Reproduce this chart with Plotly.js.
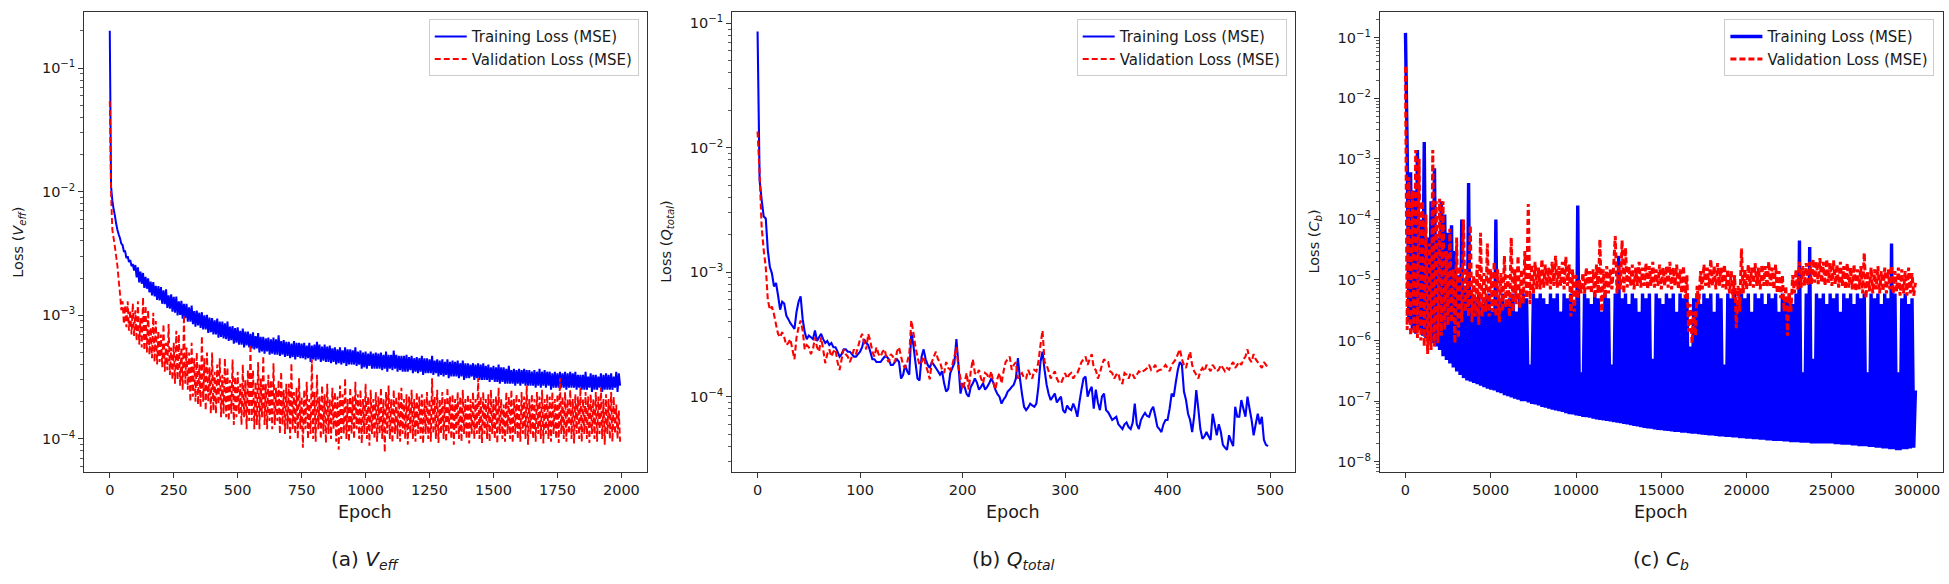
<!DOCTYPE html>
<html>
<head>
<meta charset="utf-8">
<script src="https://cdn.plot.ly/plotly-3.0.1.min.js"></script>
<style>
  html, body { margin: 0; padding: 0; background: #ffffff; }
  #chart { width: 1949px; height: 584px; }
</style>
</head>
<body>
<div id="chart"></div>
<script>
// ---------------- DATA ----------------
// (a) V_eff : one value every 5 epochs
const epochStepA = 5;
const trainLossA = [
  0.2, 0.011, 0.0085, 0.0072, 0.0064, 0.0055, 0.0049, 0.0045, 0.0042, 0.0038,
  0.0037, 0.0033, 0.0033, 0.0029, 0.003, 0.0027, 0.0028, 0.0025, 0.0026, 0.0023,
  0.00255, 0.00203, 0.00244, 0.00185, 0.00226, 0.0018, 0.0022, 0.00167, 0.00205, 0.00164,
  0.00199, 0.00153, 0.00187, 0.00145, 0.00186, 0.00142, 0.00173, 0.00133, 0.00172, 0.00132,
  0.00169, 0.00124, 0.00159, 0.00123, 0.00162, 0.00115, 0.00145, 0.00113, 0.00148, 0.00107,
  0.00141, 0.00105, 0.00142, 0.001, 0.0013, 0.00101, 0.00131, 0.00094, 0.00124, 0.00095,
  0.00124, 0.00089, 0.00116, 0.00089, 0.0012, 0.00085, 0.00108, 0.00081, 0.00109, 0.00083,
  0.00105, 0.00079, 0.00106, 0.00077, 0.001, 0.00077, 0.00101, 0.00072, 0.00096, 0.00073,
  0.00095, 0.0007, 0.00091, 0.0007, 0.00094, 0.00066, 0.00089, 0.00067, 0.00089, 0.00065,
  0.00086, 0.00064, 0.00089, 0.00062, 0.00081, 0.00063, 0.00082, 0.00059, 0.00079, 0.0006,
  0.0008, 0.00058, 0.00075, 0.00058, 0.00078, 0.00055, 0.00074, 0.00057, 0.00074, 0.00055,
  0.00071, 0.00054, 0.00073, 0.00053, 0.00068, 0.00054, 0.00072, 0.0005, 0.00067, 0.00051,
  0.00067, 0.00049, 0.00065, 0.00051, 0.00066, 0.00048, 0.00064, 0.00049, 0.00066, 0.00048,
  0.00064, 0.00048, 0.00069, 0.00047, 0.00062, 0.00048, 0.00063, 0.00046, 0.00061, 0.00047,
  0.00061, 0.00045, 0.00059, 0.00046, 0.00062, 0.00044, 0.0006, 0.00046, 0.0006, 0.00045,
  0.00059, 0.00045, 0.0006, 0.00044, 0.00057, 0.00045, 0.0006, 0.00042, 0.00057, 0.00044,
  0.00058, 0.00043, 0.00061, 0.00044, 0.00058, 0.00042, 0.00056, 0.00043, 0.00058, 0.00042,
  0.00056, 0.00042, 0.00057, 0.00041, 0.00054, 0.00042, 0.00055, 0.0004, 0.00053, 0.00041,
  0.00055, 0.0004, 0.00052, 0.00041, 0.00055, 0.00039, 0.00053, 0.0004, 0.00053, 0.0004,
  0.00052, 0.0004, 0.00055, 0.00039, 0.00051, 0.0004, 0.00052, 0.00037, 0.0005, 0.00038,
  0.00051, 0.00037, 0.00049, 0.00039, 0.00051, 0.00037, 0.00049, 0.00037, 0.0005, 0.00037,
  0.00049, 0.00037, 0.0005, 0.00036, 0.00048, 0.00037, 0.00051, 0.00035, 0.00048, 0.00037,
  0.00048, 0.00036, 0.00052, 0.00037, 0.00048, 0.00035, 0.00047, 0.00036, 0.00047, 0.00035,
  0.00047, 0.00035, 0.00048, 0.00035, 0.00046, 0.00036, 0.00047, 0.00034, 0.00045, 0.00035,
  0.00046, 0.00034, 0.00045, 0.00035, 0.00047, 0.00033, 0.00045, 0.00034, 0.00045, 0.00034,
  0.00044, 0.00034, 0.00047, 0.00033, 0.00043, 0.00034, 0.00044, 0.00032, 0.00043, 0.00033,
  0.00044, 0.00032, 0.00042, 0.00033, 0.00044, 0.00031, 0.00042, 0.00032, 0.00043, 0.00032,
  0.00042, 0.00032, 0.00043, 0.00031, 0.00041, 0.00032, 0.00043, 0.0003, 0.00041, 0.00031,
  0.00041, 0.00031, 0.0004, 0.00032, 0.00041, 0.0003, 0.0004, 0.00031, 0.00041, 0.0003,
  0.0004, 0.0003, 0.00041, 0.0003, 0.00039, 0.0003, 0.0004, 0.00029, 0.00038, 0.0003,
  0.00039, 0.00029, 0.00038, 0.00029, 0.0004, 0.00028, 0.00038, 0.00029, 0.00038, 0.00028,
  0.00037, 0.00028, 0.00039, 0.00028, 0.00036, 0.00028, 0.00037, 0.00027, 0.00036, 0.00028,
  0.00037, 0.00027, 0.00036, 0.00028, 0.00037, 0.00027, 0.00036, 0.00027, 0.00036, 0.00027,
  0.00035, 0.00027, 0.00036, 0.00026, 0.00035, 0.00027, 0.00037, 0.00026, 0.00035, 0.00027,
  0.00036, 0.00026, 0.00035, 0.00027, 0.00035, 0.00025, 0.00034, 0.00026, 0.00035, 0.00026,
  0.00034, 0.00026, 0.00035, 0.00026, 0.00034, 0.00026, 0.00035, 0.00025, 0.00034, 0.00026,
  0.00035, 0.00026, 0.00034, 0.00026, 0.00035, 0.00025, 0.00033, 0.00026, 0.00033, 0.00025,
  0.00033, 0.00025, 0.00035, 0.00025, 0.00032, 0.00026, 0.00034, 0.00024, 0.00033, 0.00025,
  0.00033, 0.00025, 0.00032, 0.00026, 0.00034, 0.00024, 0.00033, 0.00025, 0.00034, 0.00025,
  0.00033, 0.00025, 0.00034, 0.00025, 0.00032, 0.00026, 0.00035, 0.00024, 0.00034, 0.00027
];
const valLossA = [
  0.054, 0.0095, 0.0049, 0.0042, 0.0036, 0.003, 0.0025, 0.0019, 0.0015, 0.0011,
  0.0013, 0.00085, 0.0012, 0.0008, 0.0013, 0.00075, 0.0011, 0.0007, 0.00125, 0.00068,
  0.0011, 0.00062, 0.0013, 0.00058, 0.00095, 0.00055, 0.0014, 0.00052, 0.0012, 0.0005,
  0.0011, 0.00048, 0.0008, 0.00045, 0.00105, 0.00042, 0.0009, 0.0004, 0.00075, 0.00042,
  0.0007, 0.00038, 0.00085, 0.00035, 0.0006, 0.00036, 0.00085, 0.00033, 0.00055, 0.0003,
  0.0006, 0.00028, 0.00075, 0.0003, 0.0007, 0.00027, 0.00055, 0.00025, 0.001, 0.00028,
  0.00055, 0.00025, 0.0005, 0.0002, 0.0006, 0.00022, 0.00045, 0.0002, 0.0005, 0.00019,
  0.0004, 0.00018, 0.00068, 0.0002, 0.00045, 0.00017, 0.0005, 0.0002, 0.00038, 0.00016,
  0.0005, 0.00017, 0.00035, 0.00016, 0.0004, 0.00019, 0.00045, 0.00015, 0.00033, 0.00016,
  0.00045, 0.00015, 0.00038, 0.00014, 0.0003, 0.00016, 0.00044, 0.00013, 0.00032, 0.00015,
  0.00035, 0.00016, 0.00028, 0.00013, 0.0004, 0.00015, 0.0003, 0.00012, 0.00036, 0.00014,
  0.00058, 0.00014, 0.00036, 0.00012, 0.00029, 0.00013, 0.00042, 0.00012, 0.00031, 0.00015,
  0.00047, 0.00013, 0.00028, 0.00012, 0.00033, 0.00014, 0.0003, 0.00012, 0.00041, 0.00013,
  0.00026, 0.00014, 0.0003, 0.00011, 0.00035, 0.00013, 0.00025, 0.00011, 0.00028, 0.00012,
  0.00028, 0.0001, 0.00041, 0.00012, 0.00024, 0.00011, 0.00026, 0.0001, 0.00031, 0.00012,
  0.00022, 0.000085, 0.00025, 0.00012, 0.00029, 0.0001, 0.00021, 0.00011, 0.00044, 0.0001,
  0.00024, 0.000095, 0.00033, 0.00012, 0.00022, 0.0001, 0.00027, 0.00011, 0.00023, 0.000093,
  0.00028, 0.00011, 0.00021, 0.0001, 0.00026, 0.00012, 0.00024, 0.000095, 0.00022, 0.000082,
  0.00027, 0.0001, 0.00023, 0.00011, 0.00031, 0.0001, 0.00021, 0.000095, 0.00026, 0.00011,
  0.00022, 0.0001, 0.00029, 0.00012, 0.00023, 0.0001, 0.00025, 0.000092, 0.00021, 0.00011,
  0.00028, 0.0001, 0.00022, 0.000088, 0.00025, 0.00011, 0.00021, 0.0001, 0.00024, 0.000095,
  0.00022, 0.00011, 0.00026, 0.0001, 0.00021, 0.000078, 0.00024, 0.00011, 0.00027, 0.0001,
  0.00021, 0.000093, 0.00025, 0.00011, 0.00022, 0.0001, 0.00024, 0.000095, 0.00026, 0.00011,
  0.00021, 0.0001, 0.00023, 0.00009, 0.00022, 0.00011, 0.00025, 0.0001, 0.00021, 0.000095,
  0.00024, 0.00011, 0.00022, 0.0001, 0.00023, 0.000092, 0.00021, 0.00011, 0.00024, 0.0001,
  0.00021, 0.000095, 0.00031, 0.00011, 0.00022, 0.0001, 0.00025, 0.000093, 0.00021, 0.00011,
  0.00024, 0.0001, 0.00021, 0.000095, 0.00026, 0.00011, 0.00022, 0.0001, 0.00023, 0.00009,
  0.00021, 0.00011, 0.00024, 0.0001, 0.00022, 0.000095, 0.00025, 0.00011, 0.00021, 0.0001,
  0.00023, 0.000092, 0.00021, 0.00011, 0.00024, 0.0001, 0.00021, 0.00011, 0.00031, 0.0001,
  0.00022, 0.000093, 0.00024, 0.00011, 0.00021, 0.0001, 0.00023, 0.000095, 0.00025, 0.00011,
  0.00021, 0.0001, 0.00022, 0.000092, 0.00026, 0.00011, 0.00021, 0.0001, 0.00019, 0.000095,
  0.00024, 0.00011, 0.00022, 0.0001, 0.00025, 0.000093, 0.00021, 0.00011, 0.00023, 0.0001,
  0.00021, 0.000095, 0.00024, 0.00011, 0.00022, 0.0001, 0.00027, 0.00009, 0.00021, 0.00011,
  0.00023, 0.0001, 0.00021, 0.000095, 0.00024, 0.00011, 0.00022, 0.0001, 0.00025, 0.000092,
  0.00021, 0.00011, 0.00023, 0.0001, 0.00022, 0.000095, 0.00024, 0.00011, 0.00021, 0.0001,
  0.00023, 0.000093, 0.00031, 0.00011, 0.00022, 0.0001, 0.00024, 0.000095, 0.00021, 0.00011,
  0.00025, 0.0001, 0.00021, 0.000092, 0.00023, 0.00011, 0.00022, 0.0001, 0.00026, 0.000095,
  0.00021, 0.00011, 0.00024, 0.0001, 0.00022, 0.000093, 0.00023, 0.00011, 0.00021, 0.0001,
  0.00024, 0.000095, 0.00022, 0.00011, 0.00026, 0.0001, 0.00021, 0.00009, 0.00023, 0.00011,
  0.00021, 0.0001, 0.00024, 0.000095, 0.00022, 0.00011, 0.00019, 0.0001, 0.00017, 0.000095
];

// (b) Q_total : one value every 2 epochs
const epochStepB = 2;
const trainLossB = [
  0.086, 0.0055, 0.0038, 0.0028, 0.0027, 0.0015, 0.0011, 0.00098, 0.00077, 0.00082,
  0.00065, 0.0005, 0.00058, 0.00056, 0.00045, 0.00042, 0.00039, 0.00037, 0.00035, 0.00048,
  0.00058, 0.00064, 0.00042, 0.00033, 0.00029, 0.00031, 0.0003, 0.00029, 0.00034, 0.00028,
  0.0003, 0.00032, 0.00029, 0.00027, 0.00028, 0.00026, 0.00027, 0.00025, 0.00025, 0.00023,
  0.00021, 0.00022, 0.00024, 0.00024, 0.00023, 0.00023, 0.00022, 0.00021, 0.00021, 0.00022,
  0.00023, 0.00025, 0.00029, 0.00027, 0.00026, 0.00023, 0.0002, 0.0002, 0.00019, 0.00019,
  0.00019, 0.0002, 0.00021, 0.00021, 0.0002, 0.00018, 0.00018, 0.00019, 0.0002, 0.00019,
  0.00014, 0.00015, 0.00018, 0.00016, 0.00015, 0.00033, 0.00026, 0.00019, 0.00014, 0.000135,
  0.00021, 0.00024, 0.0002, 0.00018, 0.00017, 0.00019, 0.00018, 0.00017, 0.00016, 0.00015,
  0.00016, 0.000128, 0.00011, 0.000115, 0.000155, 0.00017, 0.000186, 0.00029, 0.00018, 0.000106,
  0.000128, 0.00012, 0.000105, 0.0001, 0.00012, 0.000128, 0.00014, 0.00013, 0.000114, 0.00012,
  0.000128, 0.000114, 0.00012, 0.000128, 0.00014, 0.00013, 0.000114, 0.000105, 0.0001, 0.000088,
  0.000095, 0.0001, 0.00011, 0.000114, 0.00012, 0.000125, 0.00014, 0.000204, 0.00014, 0.000105,
  0.000083, 0.000078, 0.000082, 0.000088, 0.000085, 0.000083, 0.000088, 0.00012, 0.00019, 0.00023,
  0.000164, 0.000125, 0.000105, 0.000094, 0.0001, 0.000106, 0.00009, 0.000095, 0.0001, 0.000078,
  0.000074, 0.000085, 0.00008, 0.000078, 0.000088, 0.00008, 0.000069, 0.00009, 0.000114, 0.00014,
  0.000145, 0.0001, 0.000112, 0.00012, 0.00008, 0.000114, 0.00009, 0.000078, 0.0001, 0.000106,
  0.000078, 0.000075, 0.00007, 0.000065, 0.000067, 0.000069, 0.00006, 0.0000575, 0.000055, 0.00006,
  0.000062, 0.000057, 0.000055, 0.000062, 0.000088, 0.00006, 0.000055, 0.000065, 0.00007, 0.000074,
  0.00007, 0.000069, 0.000078, 0.000083, 0.00007, 0.0000575, 0.000055, 0.000052, 0.00006, 0.000065,
  0.000065, 0.00008, 0.000106, 0.0001, 0.00013, 0.000164, 0.00019, 0.00018, 0.00011, 0.000094,
  0.000073, 0.000065, 0.000052, 0.00007, 0.000113, 0.00008, 0.000055, 0.000046, 0.000048, 0.000052,
  0.000048, 0.000045, 0.000073, 0.00006, 0.000049, 0.00006, 0.000052, 0.000041, 0.000039, 0.0000374,
  0.000049, 0.000044, 0.00004, 0.000083, 0.000069, 0.000069, 0.000094, 0.00008, 0.000069, 0.0001,
  0.00008, 0.000065, 0.000049, 0.00006, 0.000073, 0.00006, 0.000069, 0.000045, 0.000041, 0.00004
];
const valLossB = [
  0.0135, 0.0062, 0.0023, 0.0015, 0.0011, 0.0006, 0.0005, 0.00053, 0.00046, 0.00038,
  0.00032, 0.0003, 0.00033, 0.0003, 0.00026, 0.00027, 0.00029, 0.00024, 0.0002, 0.0003,
  0.00036, 0.00041, 0.00034, 0.00024, 0.00026, 0.00025, 0.00022, 0.00024, 0.0003, 0.00025,
  0.00023, 0.0003, 0.00024, 0.000186, 0.00022, 0.00024, 0.00021, 0.00023, 0.00024, 0.00019,
  0.000164, 0.0002, 0.00024, 0.00022, 0.00021, 0.00019, 0.00021, 0.00024, 0.00022, 0.00025,
  0.00029, 0.00032, 0.00027, 0.00024, 0.00032, 0.00028, 0.00023, 0.00021, 0.00025, 0.00022,
  0.00021, 0.00023, 0.00024, 0.0002, 0.00019, 0.00022, 0.00021, 0.00019, 0.00023, 0.00025,
  0.00021, 0.00018, 0.00017, 0.00019, 0.00022, 0.00041, 0.00033, 0.00025, 0.00021, 0.00018,
  0.00019, 0.00021, 0.00018, 0.00016, 0.000138, 0.00019, 0.00021, 0.00023, 0.0002, 0.00019,
  0.000165, 0.000155, 0.00019, 0.00017, 0.000164, 0.00018, 0.00021, 0.00025, 0.00017, 0.00014,
  0.000114, 0.00013, 0.000155, 0.000114, 0.00016, 0.0002, 0.000155, 0.00015, 0.000164, 0.00014,
  0.000128, 0.000155, 0.00015, 0.00014, 0.00016, 0.00013, 0.000114, 0.00014, 0.000155, 0.000128,
  0.00016, 0.00019, 0.0002, 0.00021, 0.000164, 0.00018, 0.00019, 0.00014, 0.00015, 0.000155,
  0.00014, 0.00014, 0.000164, 0.00015, 0.00014, 0.000164, 0.00016, 0.00019, 0.00026, 0.00034,
  0.00019, 0.00018, 0.00016, 0.00014, 0.00015, 0.00016, 0.00014, 0.00013, 0.000128, 0.00014,
  0.000155, 0.00014, 0.00015, 0.000155, 0.00014, 0.00015, 0.000155, 0.00017, 0.00019, 0.0002,
  0.00021, 0.00018, 0.0002, 0.00022, 0.00017, 0.000164, 0.00014, 0.000155, 0.00018, 0.0002,
  0.00019, 0.00019, 0.00016, 0.000155, 0.00014, 0.00015, 0.000155, 0.00013, 0.000128, 0.000155,
  0.00015, 0.00014, 0.000155, 0.00015, 0.00014, 0.00015, 0.00016, 0.000155, 0.00016, 0.000164,
  0.00017, 0.00018, 0.000164, 0.00017, 0.00018, 0.00016, 0.000164, 0.000165, 0.00017, 0.00018,
  0.00017, 0.00016, 0.00018, 0.00019, 0.0002, 0.00022, 0.00024, 0.0002, 0.00018, 0.00017,
  0.0002, 0.00023, 0.00018, 0.00016, 0.00015, 0.00014, 0.00016, 0.00017, 0.00016, 0.00018,
  0.00017, 0.00016, 0.00018, 0.00017, 0.00016, 0.000165, 0.00018, 0.00017, 0.00016, 0.00017,
  0.000165, 0.00018, 0.00019, 0.00017, 0.00018, 0.00019, 0.00018, 0.0002, 0.00021, 0.00024,
  0.0002, 0.00019, 0.00022, 0.0002, 0.00019, 0.00018, 0.00017, 0.00019, 0.00018, 0.00017
];

// (c) C_b : one value every 100 epochs
const epochStepC = 100;
const trainLossC = [
  0.12, 1.4e-3, 2e-6, 6e-4, 1.5e-6, 3e-4, 1.3e-6, 1.4e-3, 1.5e-6, 1e-4,
  1.2e-6, 1.9e-3, 1.1e-6, 5e-5, 1e-6, 2e-4, 9e-7, 7e-4, 8e-7, 5e-5,
  7e-7, 2e-4, 5.5e-7, 1.2e-4, 4.8e-7, 6e-5, 4.2e-7, 8e-5, 3.6e-7, 3e-5,
  3.1e-7, 1.2e-5, 2.7e-7, 1e-4, 2.4e-7, 8e-6, 2.2e-7, 4e-4, 2.1e-7, 6e-6,
  2e-7, 5e-6, 1.9e-7, 6e-6, 1.8e-7, 4e-6, 1.7e-7, 5e-6, 1.6e-7, 6e-6,
  1.55e-7, 3e-6, 1.5e-7, 1e-4, 1.4e-7, 5e-6, 1.35e-7, 6e-6, 1.25e-7, 4e-6,
  1.2e-7, 5e-6, 1.15e-7, 6e-6, 1.1e-7, 3e-6, 1.05e-7, 5e-6, 1e-7, 6e-6,
  1e-7, 5e-6, 9.5e-8, 4e-7, 9e-8, 6e-6, 8.8e-8, 5e-6, 8.5e-8, 6e-6,
  8e-8, 5e-6, 7.8e-8, 4e-6, 7.5e-8, 6e-6, 7.2e-8, 5e-6, 7e-8, 6e-6,
  6.8e-8, 3e-6, 6.6e-8, 6e-6, 6.3e-8, 5e-6, 6.1e-8, 6e-6, 6e-8, 4e-6,
  5.8e-8, 1.7e-4, 5.7e-8, 3e-7, 5.5e-8, 6e-6, 5.4e-8, 5e-6, 5.3e-8, 4e-6,
  5.1e-8, 6e-6, 5e-8, 5e-6, 4.9e-8, 3e-6, 4.8e-8, 6e-6, 4.7e-8, 5e-6,
  4.6e-8, 4e-7, 4.5e-8, 6e-6, 4.4e-8, 2.5e-5, 4.3e-8, 5e-6, 4.2e-8, 6e-6,
  4.1e-8, 4e-6, 4e-8, 6e-6, 3.9e-8, 5e-6, 3.8e-8, 3e-6, 3.7e-8, 6e-6,
  3.6e-8, 5e-6, 3.55e-8, 6e-6, 3.5e-8, 5e-7, 3.4e-8, 6e-6, 3.35e-8, 5e-6,
  3.3e-8, 4e-6, 3.25e-8, 6e-6, 3.2e-8, 5e-6, 3.15e-8, 6e-6, 3.1e-8, 3e-6,
  3.1e-8, 6e-6, 3e-8, 5e-6, 3e-8, 6e-6, 2.95e-8, 8e-7, 2.9e-8, 5e-6,
  2.9e-8, 6e-6, 2.85e-8, 4e-6, 2.8e-8, 6e-6, 2.75e-8, 5e-6, 2.7e-8, 6e-6,
  2.7e-8, 3e-6, 2.65e-8, 6e-6, 2.6e-8, 5e-6, 2.6e-8, 4e-7, 2.55e-8, 6e-6,
  2.55e-8, 5e-6, 2.5e-8, 6e-6, 2.5e-8, 4e-6, 2.45e-8, 6e-6, 2.45e-8, 5e-6,
  2.4e-8, 6e-6, 2.4e-8, 3e-6, 2.35e-8, 6e-6, 2.35e-8, 5e-6, 2.3e-8, 6e-6,
  2.3e-8, 4e-6, 2.25e-8, 6e-6, 2.25e-8, 5e-6, 2.2e-8, 6e-6, 2.2e-8, 3e-6,
  2.2e-8, 6e-6, 2.15e-8, 5e-6, 2.15e-8, 6e-6, 2.1e-8, 4e-6, 2.1e-8, 6e-6,
  2.1e-8, 4.5e-5, 2.05e-8, 3e-7, 2.05e-8, 6e-6, 2.05e-8, 3.5e-5, 2e-8, 5e-7,
  2e-8, 6e-6, 2e-8, 5e-6, 2e-8, 6e-6, 2e-8, 4e-6, 2e-8, 6e-6,
  2e-8, 5e-6, 1.95e-8, 6e-6, 1.95e-8, 3e-6, 1.9e-8, 6e-6, 1.9e-8, 5e-6,
  1.9e-8, 6e-6, 1.85e-8, 4e-6, 1.85e-8, 6e-6, 1.8e-8, 5e-6, 1.8e-8, 6e-6,
  1.8e-8, 3e-7, 1.75e-8, 6e-6, 1.75e-8, 5e-6, 1.7e-8, 6e-6, 1.7e-8, 4e-6,
  1.65e-8, 6e-6, 1.65e-8, 5e-6, 1.6e-8, 4e-5, 1.6e-8, 6e-6, 1.55e-8, 3e-7,
  1.55e-8, 5e-6, 1.6e-8, 6e-6, 1.6e-8, 4e-6, 1.65e-8, 5e-6, 1.7e-8, 1.5e-7
];
const valLossC = [
  0.033, 1.5e-6, 5e-4, 1.2e-6, 3e-4, 1.3e-6, 1.4e-3, 1.1e-6, 1e-3, 1e-6,
  2e-4, 8e-7, 1.2e-4, 6e-7, 4e-5, 7e-7, 1.4e-3, 8e-7, 2e-4, 9e-7,
  2.2e-4, 1.2e-6, 2e-4, 1.5e-6, 3e-5, 1.8e-6, 7e-5, 2e-6, 1.5e-5, 9e-7,
  5e-5, 1.1e-6, 1.7e-5, 2e-6, 1e-4, 3e-6, 1.5e-5, 2.5e-6, 8e-5, 2e-6,
  1.2e-5, 2.5e-6, 1.8e-5, 1.8e-6, 6e-5, 2.5e-6, 1.3e-5, 3e-6, 4e-5, 2.5e-6,
  1.5e-5, 3e-6, 2e-5, 2.5e-6, 1.5e-5, 2e-6, 1.3e-5, 3e-6, 2.5e-5, 3.5e-6,
  1.2e-5, 2.5e-6, 5e-5, 3e-6, 1.5e-5, 4e-6, 2.5e-5, 3.5e-6, 1.5e-5, 4e-6,
  3e-5, 5e-6, 1.8e-4, 4e-6, 1.8e-5, 6e-6, 2e-5, 7e-6, 1.6e-5, 7e-6,
  2.2e-5, 7.5e-6, 1.8e-5, 8e-6, 1.6e-5, 7e-6, 2e-5, 8e-6, 2.5e-5, 7.5e-6,
  1.7e-5, 8e-6, 2e-5, 7e-6, 2.4e-5, 8e-6, 1.8e-5, 2.5e-6, 1.5e-5, 3e-6,
  1.2e-5, 5e-6, 1e-5, 6e-6, 1.3e-5, 6e-6, 1.6e-5, 7e-6, 1.4e-5, 6e-6,
  1.5e-5, 5e-6, 1.8e-5, 6e-6, 4.7e-5, 3e-6, 1.5e-5, 5e-6, 1.7e-5, 6e-6,
  1.5e-5, 7e-6, 1.6e-5, 5.3e-5, 6e-6, 1.8e-5, 7e-6, 4.5e-5, 6e-6, 3.4e-5,
  7.5e-6, 1.7e-5, 8e-6, 1.8e-5, 7e-6, 1.6e-5, 8e-6, 2e-5, 7.5e-6, 1.6e-5,
  8e-6, 1.9e-5, 7e-6, 1.7e-5, 8e-6, 2e-5, 7.5e-6, 1.5e-5, 8e-6, 1.8e-5,
  7e-6, 1.6e-5, 8e-6, 1.7e-5, 7.5e-6, 2e-5, 7e-6, 1.6e-5, 8e-6, 1.8e-5,
  7e-6, 1.5e-5, 6e-6, 1.7e-5, 5e-6, 1.2e-5, 1.4e-6, 4e-6, 9e-7, 3e-6,
  1.2e-6, 8e-6, 4e-6, 1.4e-5, 7e-6, 1.8e-5, 8e-6, 1.6e-5, 7.5e-6, 2.2e-5,
  8e-6, 1.7e-5, 7e-6, 1.9e-5, 8e-6, 1.6e-5, 7.5e-6, 1.8e-5, 7e-6, 1.5e-5,
  6e-6, 1.4e-5, 5e-6, 1.2e-5, 1.6e-6, 8e-6, 3e-6, 3.3e-5, 6e-6, 1.5e-5,
  7e-6, 1.8e-5, 8e-6, 1.6e-5, 7.5e-6, 1.9e-5, 8e-6, 1.6e-5, 7e-6, 1.8e-5,
  8e-6, 1.7e-5, 7.5e-6, 2e-5, 8e-6, 1.6e-5, 7e-6, 1.8e-5, 6e-6, 1.4e-5,
  5e-6, 1.2e-5, 3e-6, 8e-6, 1.2e-6, 6e-6, 3e-6, 1.2e-5, 6e-6, 1.5e-5,
  7e-6, 2e-5, 7.5e-6, 1.7e-5, 8e-6, 1.9e-5, 8e-6, 2e-5, 8.5e-6, 2.2e-5,
  9e-6, 2e-5, 8.5e-6, 2.3e-5, 9e-6, 2e-5, 8e-6, 2.2e-5, 9e-6, 1.9e-5,
  8e-6, 2.1e-5, 8.5e-6, 1.8e-5, 7.5e-6, 2e-5, 8e-6, 1.7e-5, 7e-6, 1.9e-5,
  7.5e-6, 1.6e-5, 7e-6, 1.8e-5, 6.5e-6, 1.5e-5, 7e-6, 1.7e-5, 6e-6, 2.8e-5,
  5e-6, 1.4e-5, 6.5e-6, 1.6e-5, 6e-6, 1.5e-5, 7e-6, 1.7e-5, 6e-6, 1.4e-5,
  6.5e-6, 1.6e-5, 6e-6, 1.5e-5, 7e-6, 1.7e-5, 6e-6, 1.4e-5, 6.5e-6, 1.6e-5,
  5.5e-6, 1.5e-5, 6e-6, 1.4e-5, 5.5e-6, 1.6e-5, 6e-6, 1.3e-5, 5.5e-6, 9e-6
];

// tick labels
const xTickStepA = 250, xTickStepB = 100, xTickStepC = 5000;
const yDecadesA = [-4, -3, -2, -1];
const yDecadesB = [-4, -3, -2, -1];
const yDecadesC = [-8, -7, -6, -5, -4, -3, -2, -1];
const legendLabels = ['Training Loss (MSE)', 'Validation Loss (MSE)'];
const yTitles = ['Loss (<i>V</i><sub><i>eff</i></sub>)', 'Loss (<i>Q</i><sub><i>total</i></sub>)', 'Loss (<i>C</i><sub><i>b</i></sub>)'];
const captions = ['(a) <i>V</i><sub><i>eff</i></sub>', '(b) <i>Q</i><sub><i>total</i></sub>', '(c) <i>C</i><sub><i>b</i></sub>'];

// ---------------- STYLE ----------------
const FONT = 'DejaVu Sans, Verdana, sans-serif';
const TXT = '#1a1a1a';
const LINE = '#333333';
const W = 1949, H = 584;
const xDomains = [[84.2 / W, 646.7 / W], [732 / W, 1294.6 / W], [1379.9 / W, 1942.7 / W]];
const yDomain = [1 - 472 / H, 1 - 12 / H];
const legendRight = [638.75 / W, 1286.7 / W, 1934.4 / W];

function epochs(arr, step) { return arr.map((_, i) => i * step); }

function mkTraces(tr, va, step, xa, ya, leg, wb, wr) {
  return [
    { x: epochs(tr, step), y: tr, xaxis: xa, yaxis: ya, type: 'scatter', mode: 'lines', name: legendLabels[0],
      legend: leg, line: { color: '#0000ff', width: wb, simplify: false } },
    { x: epochs(va, step), y: va, xaxis: xa, yaxis: ya, type: 'scatter', mode: 'lines', name: legendLabels[1],
      legend: leg, line: { color: '#ff0000', width: wr, dash: '6px,3px', simplify: false } }
  ];
}

const data = [].concat(
  mkTraces(trainLossA, valLossA, epochStepA, 'x', 'y', 'legend', 2.0, 1.9),
  mkTraces(trainLossB, valLossB, epochStepB, 'x2', 'y2', 'legend2', 2.1, 2.1),
  mkTraces(trainLossC, valLossC, epochStepC, 'x3', 'y3', 'legend3', 3.4, 3.0)
);

function xAxis(i, range, dtick, anchor) {
  return {
    domain: xDomains[i], anchor: anchor, range: range, tick0: 0, dtick: dtick,
    tickformat: 'd',
    ticks: 'outside', ticklen: 5, tickwidth: 1, tickcolor: LINE,
    showline: true, mirror: true, linecolor: LINE, linewidth: 1,
    showgrid: false, zeroline: false,
    tickfont: { family: FONT, size: 14.5, color: TXT }
  };
}
function yAxis(range, decades, anchor) {
  const minor = [];
  for (let k = decades[0] - 1; k <= decades[decades.length - 1]; k++) {
    for (let m = 2; m <= 9; m++) minor.push(m * Math.pow(10, k));
  }
  return {
    domain: yDomain, anchor: anchor, type: 'log', range: range,
    tickmode: 'array',
    tickvals: decades.map(k => Math.pow(10, k)),
    ticktext: decades.map(k => '10<sup>\u2212' + (-k) + '</sup>'),
    ticks: 'outside', ticklen: 5, tickwidth: 1, tickcolor: LINE,
    minor: { tickmode: 'array', tickvals: minor, ticks: 'outside', ticklen: 3, tickwidth: 0.8, tickcolor: LINE, showgrid: false },
    showline: true, mirror: true, linecolor: LINE, linewidth: 1,
    showgrid: false, zeroline: false,
    tickfont: { family: FONT, size: 14.5, color: TXT }
  };
}
function legendBox(i) {
  return {
    x: legendRight[i], xanchor: 'right', y: 1 - 19.3 / H, yanchor: 'top',
    bgcolor: 'rgba(255,255,255,0.85)', bordercolor: '#cccccc', borderwidth: 1,
    font: { family: FONT, size: 15, color: TXT }, itemwidth: 32
  };
}

const annotations = [];
const centers = xDomains.map(d => (d[0] + d[1]) / 2);
const yLabelX = [18.75 / W, 666.7 / W, 1314.6 / W];
for (let i = 0; i < 3; i++) {
  annotations.push({ xref: 'paper', yref: 'paper', x: centers[i], y: 1 - 512 / H, xanchor: 'center', yanchor: 'middle',
    text: 'Epoch', showarrow: false, font: { family: FONT, size: 17.5, color: TXT } });
  annotations.push({ xref: 'paper', yref: 'paper', x: yLabelX[i], y: 1 - 242 / H, xanchor: 'center', yanchor: 'middle',
    text: yTitles[i], textangle: -90, showarrow: false, font: { family: FONT, size: 14.5, color: TXT } });
  annotations.push({ xref: 'paper', yref: 'paper', x: centers[i], y: 1 - 560 / H, xanchor: 'center', yanchor: 'middle',
    text: captions[i], showarrow: false, font: { family: FONT, size: 20, color: TXT } });
}

const layout = {
  width: W, height: H,
  margin: { l: 0, r: 0, t: 0, b: 0 },
  paper_bgcolor: '#ffffff', plot_bgcolor: '#ffffff',
  font: { family: FONT, color: TXT },
  showlegend: true,
  xaxis: xAxis(0, [-100, 2099], xTickStepA, 'y'),
  yaxis: yAxis([-4.267, -0.547], yDecadesA, 'x'),
  xaxis2: xAxis(1, [-24.95, 523.95], xTickStepB, 'y2'),
  yaxis2: yAxis([-4.605, -0.909], yDecadesB, 'x2'),
  xaxis3: xAxis(2, [-1500, 31499], xTickStepC, 'y3'),
  yaxis3: yAxis([-8.17, -0.576], yDecadesC, 'x3'),
  legend: legendBox(0), legend2: legendBox(1), legend3: legendBox(2),
  annotations: annotations
};

Plotly.newPlot('chart', data, layout, { staticPlot: true, displayModeBar: false });
</script>
</body>
</html>
